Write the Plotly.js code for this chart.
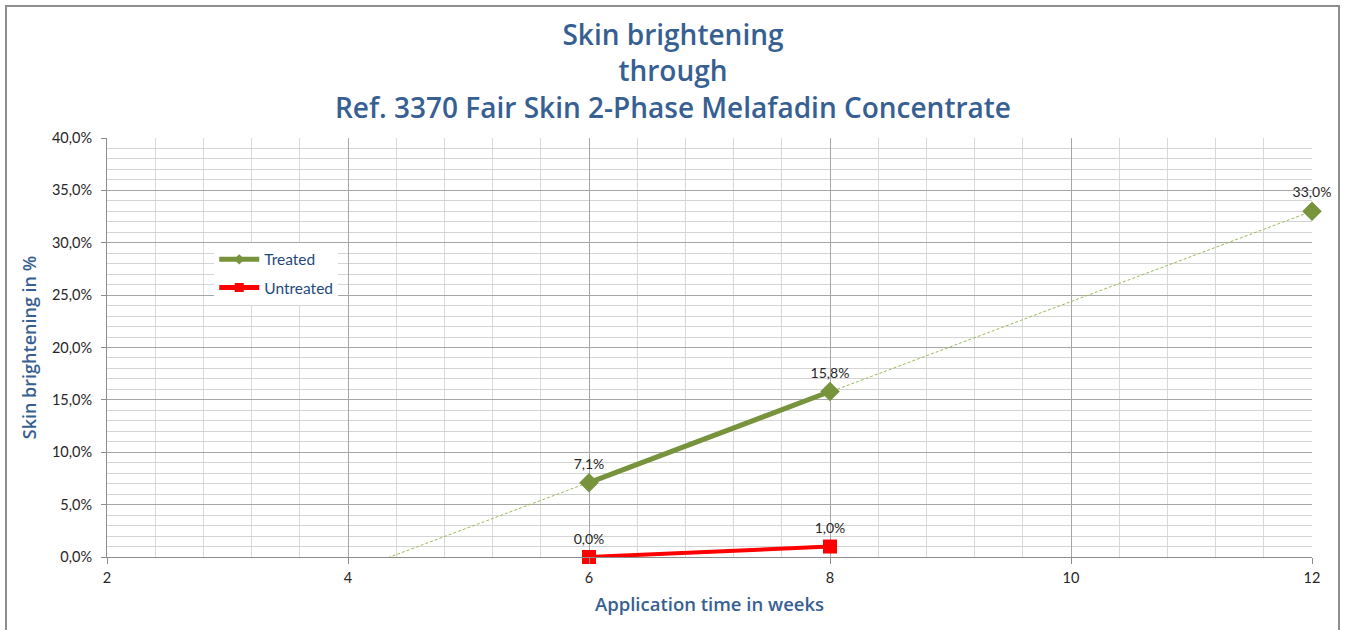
<!DOCTYPE html>
<html>
<head>
<meta charset="utf-8">
<script src="https://cdn.plot.ly/plotly-3.0.1.min.js"></script>
<style>
  html, body { margin: 0; padding: 0; background: #fff; overflow: hidden; }
  #wrap { position: relative; width: 1346px; height: 630px; }
  #chart { position: absolute; left: 0; top: 0; width: 1346px; height: 630px; }
  #frame { position: absolute; left: 5px; top: 5px; width: 1331px; height: 700px;
           border: 2px solid #8e8e8e; pointer-events: none; }
</style>
</head>
<body>
<div id="wrap">
  <div id="chart"></div>
  <div id="frame"></div>
</div>
<script>
// ---- data ----
const weeks = [6, 8, 10, 12];
const treated = [7.1, 15.8, null, 33.0];
const untreated = [0.0, 1.0, null, null];
const seriesNames = ["Treated", "Untreated"];
const xTickVals = [2, 4, 6, 8, 10, 12];
const titleLines = ["Skin brightening", "through", "Ref. 3370 Fair Skin 2-Phase Melafadin Concentrate"];

// linear trendline for Treated (least squares over available points)
const pts = weeks.map((w, i) => [w, treated[i]]).filter(p => p[1] !== null);
const n = pts.length;
const mx = pts.reduce((s, p) => s + p[0], 0) / n;
const my = pts.reduce((s, p) => s + p[1], 0) / n;
let sxy = 0, sxx = 0;
pts.forEach(p => { sxy += (p[0] - mx) * (p[1] - my); sxx += (p[0] - mx) * (p[0] - mx); });
const slope = sxy / sxx;
const intercept = my - slope * mx;
const trendX = [xTickVals[0], xTickVals[xTickVals.length - 1]];
const trendY = trendX.map(x => intercept + slope * x);

const FONT = "Lato, 'Open Sans', sans-serif";
const TFONT = "'Open Sans', Lato, sans-serif";
const BLUE = "#376092";
const GREEN = "#77933c";
const RED = "#ff0000";

const traces = [
  {
    x: trendX, y: trendY, mode: "lines", showlegend: false, hoverinfo: "skip",
    line: { color: "#9bbb59", width: 1, dash: "3px,2px" }
  },
  {
    name: seriesNames[0], x: weeks, y: treated, mode: "lines+markers+text",
    connectgaps: false, showlegend: false,
    line: { color: GREEN, width: 5 },
    marker: { symbol: "diamond", size: 15, color: GREEN },
    texttemplate: "%{y:.1f}%", textposition: "top center",
    textfont: { family: FONT, size: 14, color: "#262626" }, cliponaxis: false
  },
  {
    name: seriesNames[1], x: weeks, y: untreated, mode: "lines+markers+text",
    connectgaps: false, showlegend: false,
    line: { color: RED, width: 4 },
    marker: { symbol: "square", size: 14, color: RED },
    texttemplate: "%{y:.1f}%", textposition: "top center",
    textfont: { family: FONT, size: 14, color: "#262626" }, cliponaxis: false
  },
  // legend entries (small markers like the reference legend)
  {
    name: seriesNames[0], x: [null], y: [null], mode: "lines+markers", legendgroup: "a",
    line: { color: GREEN, width: 5 }, marker: { symbol: "diamond", size: 8, color: GREEN }
  },
  {
    name: seriesNames[1], x: [null], y: [null], mode: "lines+markers", legendgroup: "b",
    line: { color: RED, width: 5 }, marker: { symbol: "square", size: 9, color: RED }
  }
];

const layout = {
  width: 1346, height: 630,
  paper_bgcolor: "#ffffff", plot_bgcolor: "#ffffff",
  separators: ",.",
  margin: { l: 107, r: 34, t: 138, b: 73 },
  font: { family: FONT, color: "#262626" },
  title: {
    text: titleLines.join("<br>"),
    x: 0.5, xref: "container", xanchor: "center",
    y: 1 - 45 / 630, yref: "container", yanchor: "middle",
    font: { family: TFONT, size: 28, color: BLUE, weight: 600 }
  },
  xaxis: {
    range: [2, 12], tickvals: xTickVals, ticks: "outside", ticklen: 6, tickcolor: "#8c8c8c",
    ticklabelstandoff: 2,
    showline: true, linecolor: "#8c8c8c", linewidth: 1,
    showgrid: true, gridcolor: "#a6a6a6", gridwidth: 1, zeroline: false,
    minor: { dtick: 0.4, showgrid: true, gridcolor: "#d9d9d9", gridwidth: 1, ticks: "" },
    tickfont: { family: FONT, size: 14.5, color: "#262626" },
    title: { text: "Application time in weeks", standoff: 12,
             font: { family: TFONT, size: 18.5, color: BLUE, weight: 600 } }
  },
  yaxis: {
    range: [0, 40], dtick: 5, tickformat: ".1f", ticksuffix: "%",
    ticks: "outside", ticklen: 5, tickcolor: "#8c8c8c", ticklabelstandoff: 6,
    showline: true, linecolor: "#8c8c8c", linewidth: 1,
    showgrid: true, gridcolor: "#a6a6a6", gridwidth: 1, zeroline: false,
    minor: { dtick: 1, showgrid: true, gridcolor: "#d4d4d4", gridwidth: 1, ticks: "" },
    tickfont: { family: FONT, size: 14.5, color: "#262626" },
    title: { text: "Skin brightening in %", standoff: 10,
             font: { family: TFONT, size: 18, color: BLUE, weight: 600 } }
  },
  legend: {
    x: 0.089, y: 0.75, xanchor: "left", yanchor: "top",
    bgcolor: "#ffffff", borderwidth: 0,
    font: { family: FONT, size: 15.5, color: "#1f497d" },
    tracegroupgap: 5, itemwidth: 40
  },
  showlegend: true
};

Plotly.newPlot("chart", traces, layout, { displayModeBar: false, staticPlot: true });
</script>
</body>
</html>
